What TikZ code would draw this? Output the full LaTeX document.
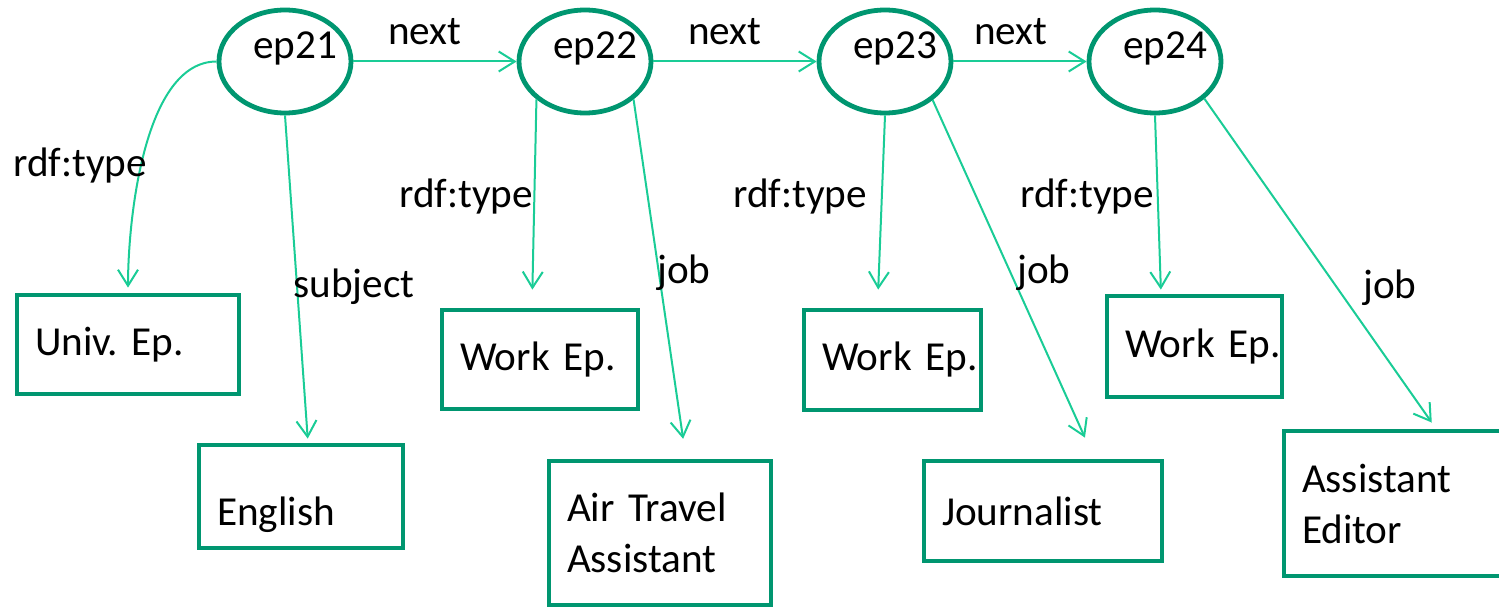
\documentclass[tikz,border=0pt]{standalone}
\usepackage{fontspec}
\setmainfont{Carlito}
\usepackage{tikz}
\usetikzlibrary{arrows.meta, positioning, calc, shapes}
\definecolor{nodegreen}{RGB}{0,150,112}
\definecolor{linkgreen}{RGB}{26,204,150}
\newcommand{\eplabel}[1]{\makebox[0pt]{\hspace{10pt}\smash{\raisebox{1.75pt}{#1}}}}

\begin{document}
\begin{tikzpicture}[x=0.5pt, y=-0.5pt,
  font=\fontsize{20.6}{25.5}\selectfont,
  ep/.style={ellipse, draw=nodegreen, line width=2.4pt, minimum width=66pt, minimum height=51.5pt, inner sep=0pt},
  box/.style={rectangle, draw=nodegreen, line width=2.4pt, align=left, inner xsep=9pt, inner ysep=0pt},
  link/.style={draw=linkgreen, line width=1pt, -{Straight Barb[length=8pt,width=10pt]}}]
  \useasboundingbox (0,0) rectangle (1499,610);
  % Episodes
  \node[ep] (ep21) at (285,61.5) {\eplabel{ep21}};
  \node[ep] (ep22) at (585,61.5) {\eplabel{ep22}};
  \node[ep] (ep23) at (885,61.5) {\eplabel{ep23}};
  \node[ep] (ep24) at (1155,61.5) {\eplabel{ep24}};
  % Types and values
  \node[box, text width=93pt, minimum height=49.5pt] (univ) at (128,344.5) {Univ.\ Ep.};
  \node[box, text width=84pt, minimum height=51.5pt] (english) at (301,496.5) {\smash{\raisebox{-14.25pt}{English}}};
  \node[box, text width=80pt, minimum height=49.5pt] (work22) at (540,359.5) {Work Ep.};
  \node[box, text width=93pt, minimum height=72pt] (travel) at (660,533) {Air Travel\\Assistant};
  \node[box, text width=70.5pt, minimum height=50pt] (work23) at (892.5,360) {\mbox{Work Ep.}};
  \node[box, text width=101pt, minimum height=50pt] (journalist) at (1043,511) {Journalist};
  \node[box, text width=69.5pt, minimum height=50.5pt] (work24) at (1194.5,346.5) {\mbox{Work Ep.}};
  \node[box, text width=100pt, minimum height=72.5pt] (editor) at (1402,503.5) {Assistant\\Editor};
  % next links
  \draw[link] (ep21.east) -- (ep22.west);
  \draw[link] (ep22.east) -- (ep23.west);
  \draw[link] (ep23.east) -- (ep24.west);
  % type and value links
  \draw[link, shorten >=2.5pt] (ep21.west) to[out=180, in=90, looseness=0.75] (univ.north);
  \draw[link, shorten >=2pt] (ep21.south) -- ([xshift=3.5pt]english.north);
  \draw[link, shorten >=9pt] (ep22.218) -- ([xshift=-4pt]work22.north);
  \draw[link, shorten >=10pt] (ep22.322) -- ([xshift=13pt]travel.north);
  \draw[link, shorten >=9pt] (ep23.south) -- ([xshift=-7.5pt]work23.north);
  \draw[link, shorten >=11.5pt] (ep23.321) -- ([xshift=25.7pt]journalist.north);
  \draw[link, shorten >=2pt] (ep24.south) -- ([xshift=-16.75pt]work24.north);
  \draw[link, shorten >=3.7pt] (ep24.323) -- ([xshift=17pt]editor.north);
  % Labels
  \node (next1) at (425,32) {next};
  \node (next2) at (725,32) {next};
  \node (next3) at (1011,32) {next};
  \node (type21) at (80,166) {rdf:type};
  \node (type22) at (466,197) {rdf:type};
  \node (type23) at (800,197) {rdf:type};
  \node (type24) at (1087,197) {rdf:type};
  \node (subject21) at (354,287) {subject};
  \node (job22) at (684,273) {job};
  \node (job23) at (1044,273) {job};
  \node (job24) at (1390,288) {job};
\end{tikzpicture}
\end{document}
